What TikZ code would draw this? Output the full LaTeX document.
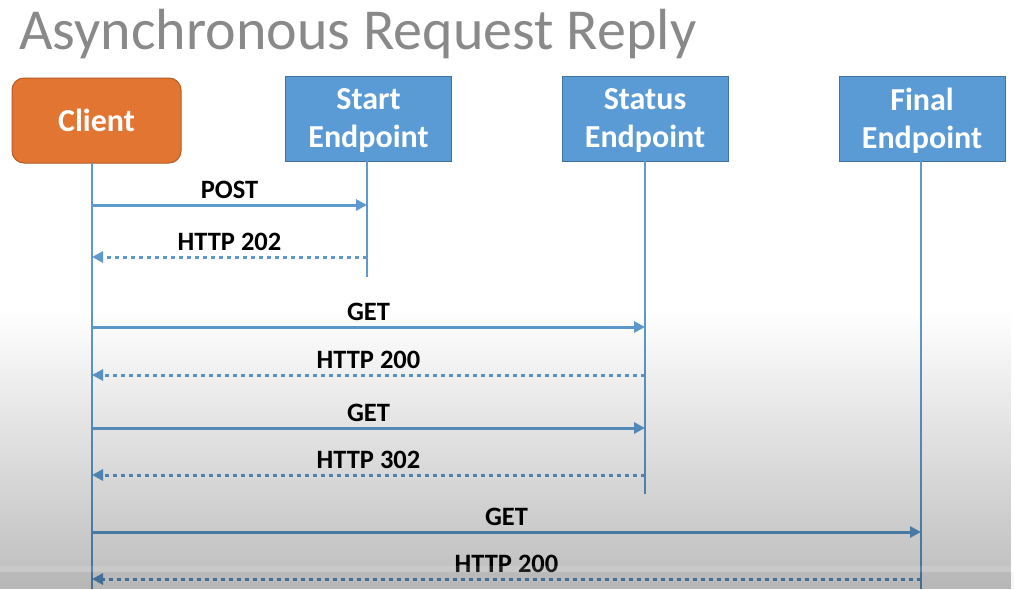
\documentclass[tikz,border=0pt]{standalone}
\usepackage{fontspec}
\setmainfont{Carlito}
\usetikzlibrary{arrows.meta,fadings}
\definecolor{cOrange}{HTML}{E27532}
\definecolor{cOrangeB}{HTML}{B85B24}
\definecolor{cBlue}{HTML}{5B9BD5}
\definecolor{cBlueB}{HTML}{41719C}
\definecolor{cLine}{HTML}{5E9ACF}
\definecolor{cTitle}{HTML}{898989}
\tikzfading[name=fadedown, top color=transparent!100, bottom color=transparent!74]
\tikzset{
  cbox/.style={draw=cOrangeB, line width=1pt, fill=cOrange, rounded corners=12pt,
    minimum width=169pt, minimum height=85pt, text=white, font=\fontsize{32}{38}\selectfont\bfseries, align=center},
  ebox/.style={draw=cBlueB, line width=1pt, fill=cBlue, text depth=0pt,
    minimum width=166pt, minimum height=85pt, text=white, font=\fontsize{32}{38}\selectfont\bfseries, align=center},
  life/.style={draw=cLine, line width=2pt},
  msg/.style={draw=cLine, line width=3pt, -{Triangle[length=11pt,width=11pt]}},
  rep/.style={msg, dash pattern=on 4pt off 4pt},
  lbl/.style={font=\fontsize{26.5}{30}\selectfont\bfseries, text=black, anchor=base, yshift=7pt},
}
\begin{document}
\begin{tikzpicture}[x=1pt,y=-1pt]
\useasboundingbox (0,0) rectangle (1014,589);
\fill[white] (0,0) rectangle (1014,589);
% title
\node[anchor=base west, inner sep=0pt, text=cTitle, font=\fontsize{58}{60}\selectfont] (title) at (19,49) {Asynchronous Request Reply};
% boxes
\node[cbox] (client) at (96.5,120.5) {Client};
\node[ebox] (start) at (368.5,118.5) {Start\\Endpoint};
\node[ebox] (status) at (645,118.5) {Status\\Endpoint};
\node[ebox] (final) at (922,118.5) {Final\\Endpoint};
% lifeline coordinates
\coordinate (cTop) at (92,163);
\coordinate (cBot) at (92,589);
\coordinate (sTop) at (367,161);
\coordinate (sBot) at (367,277);
\coordinate (tTop) at (645,161);
\coordinate (tBot) at (645,494);
\coordinate (fTop) at (921,161);
\coordinate (fBot) at (921,589);
\draw[life] (cTop) -- (cBot);
\draw[life] (sTop) -- (sBot);
\draw[life] (tTop) -- (tBot);
\draw[life] (fTop) -- (fBot);
% message endpoints
\coordinate (c1) at (92,205);  \coordinate (s1) at (367,205);
\coordinate (c2) at (92,257);  \coordinate (s2) at (367,257);
\coordinate (c3) at (92,327);  \coordinate (t3) at (645,327);
\coordinate (c4) at (92,375);  \coordinate (t4) at (645,375);
\coordinate (c5) at (92,428);  \coordinate (t5) at (645,428);
\coordinate (c6) at (92,475);  \coordinate (t6) at (645,475);
\coordinate (c7) at (92,532);  \coordinate (f7) at (921,532);
\coordinate (c8) at (92,579);  \coordinate (f8) at (921,579);
\draw[msg] (c1) -- (s1) node[lbl, midway] (l1) {POST};
\draw[rep] (s2) -- (c2) node[lbl, midway] (l2) {HTTP 202};
\draw[msg] (c3) -- (t3) node[lbl, midway] (l3) {GET};
\draw[rep] (t4) -- (c4) node[lbl, midway] (l4) {HTTP 200};
\draw[msg] (c5) -- (t5) node[lbl, midway] (l5) {GET};
\draw[rep] (t6) -- (c6) node[lbl, midway] (l6) {HTTP 302};
\draw[msg] (c7) -- (f7) node[lbl, midway] (l7) {GET};
\draw[rep] (f8) -- (c8) node[lbl, midway] (l8) {HTTP 200};
% bottom gradient overlay
\fill[black, path fading=fadedown] (0,310) rectangle (1014,589);
\fill[white, opacity=0.12] (0,566) rectangle (1014,572);
\fill[black, opacity=0.03] (0,572) rectangle (1014,589);
\end{tikzpicture}
\end{document}
